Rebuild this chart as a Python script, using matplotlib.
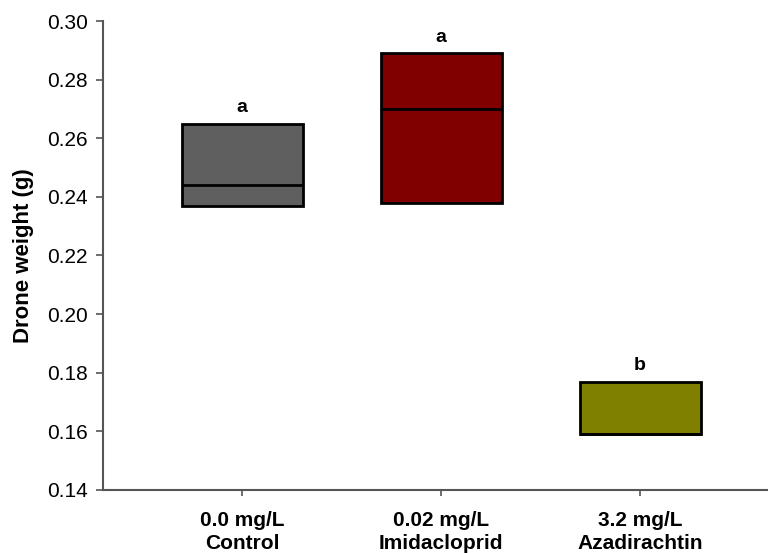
import matplotlib
matplotlib.use("Agg")
import matplotlib.pyplot as plt

# Drone weight summaries per treatment (g)
groups = ["0.0 mg/L\nControl", "0.02 mg/L\nImidacloprid", "3.2 mg/L\nAzadirachtin"]
q1 = [0.237, 0.238, 0.159]
medians = [0.244, 0.270, 0.159]
q3 = [0.265, 0.289, 0.177]
letters = ["a", "a", "b"]
colors = ["#5f5f5f", "#800000", "#808000"]
y_ticks = [0.14, 0.16, 0.18, 0.20, 0.22, 0.24, 0.26, 0.28, 0.30]

plt.rcParams["font.family"] = ["Liberation Sans", "DejaVu Sans"]

fig = plt.figure(figsize=(7.68, 5.53), dpi=100)
ax = fig.add_axes([0.134, 0.114, 0.866, 0.848])

stats = []
for lo, med, hi in zip(q1, medians, q3):
    stats.append({"q1": lo, "med": med, "q3": hi, "whislo": lo, "whishi": hi, "fliers": []})

positions = [1, 2, 3]
bp = ax.bxp(stats, positions=positions, widths=0.608, patch_artist=True,
            showcaps=False, showfliers=False,
            boxprops=dict(linewidth=2, edgecolor="black"),
            medianprops=dict(color="black", linewidth=2),
            whiskerprops=dict(linewidth=0))
for box, c in zip(bp["boxes"], colors):
    box.set_facecolor(c)

for x, top, letter in zip(positions, q3, letters):
    ax.text(x, top + 0.004, letter, ha="center", va="baseline",
            fontsize=14, fontweight="bold")

ax.set_xlim(0.301, 3.643)
ax.set_ylim(0.14, 0.30)
ax.set_yticks(y_ticks)
ax.set_yticklabels([f"{t:.2f}" for t in y_ticks], fontsize=15)
ax.set_xticks(positions)
ax.set_xticklabels(groups, fontsize=15, fontweight="bold", linespacing=1.3)
ax.set_ylabel("Drone weight (g)", fontsize=16, fontweight="bold", labelpad=9)

for side in ["top", "right"]:
    ax.spines[side].set_visible(False)
for side in ["left", "bottom"]:
    ax.spines[side].set_color("#555555")
    ax.spines[side].set_linewidth(1.5)
ax.tick_params(axis="y", length=5, width=1.2, color="#555555", pad=6)
ax.tick_params(axis="x", length=4, width=1.2, color="#555555", pad=11)

fig.savefig("out.png", dpi=100)
